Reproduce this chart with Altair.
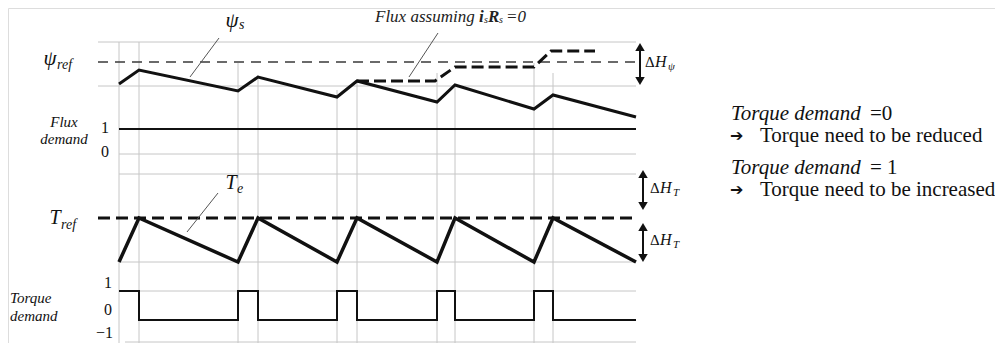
import altair as alt
import pandas as pd

# ---------------- data (diagram units) ----------------
# switching instants (time axis)
switch_t = [119, 139, 238, 258, 337, 357, 437, 455, 534, 553, 636]
# stator flux magnitude psi_s at those instants
psi_s = [84, 70, 91, 77, 97, 81, 102, 85, 109, 95, 117]
# electromagnetic torque T_e at those instants
t_e = [262, 218, 262, 218, 262, 218, 262, 218, 262, 218, 262]
# torque demand (1 = increase, 0 = reduce) on each interval [switch_t[i], switch_t[i+1]]
torque_demand = [1, 0, 1, 0, 1, 0, 1, 0, 1, 0]
# "flux assuming i_s R_s = 0" curve
flux_ideal_t = [357, 435, 455, 534, 551, 595]
flux_ideal_v = [81, 81, 67, 67, 51, 51]
# reference levels
psi_ref_level = 62
psi_band = [42, 86]
flux_demand_level = 129
flux_demand_grid = [154, 174]
t_ref_level = 218
t_band = [174, 262]
td_levels = {1: 291, 0: 320}
td_grid = [291, 342]
t_start, t_end, label_start = 119, 636, 98
# vertical guide tops at each switching instant
vguide_top = [42, 42, 63, 75, 90, 82, 73, 85, 63, 73]

# ---------------- scales ----------------
XS = alt.Scale(domain=[8, 995], nice=False, zero=False)
YS = alt.Scale(domain=[8, 343], nice=False, zero=False, reverse=True)
GRID = "#c6c6c6"
SERIF = "Times New Roman, Liberation Serif, DejaVu Serif, serif"


def X(f="x"):
    return alt.X(f"{f}:Q", scale=XS, axis=None)


def Y(f="y"):
    return alt.Y(f"{f}:Q", scale=YS, axis=None)


def hrules(rows, **mk):
    df = pd.DataFrame(rows, columns=["x", "x2", "y"])
    return alt.Chart(df).mark_rule(**mk).encode(x=X(), x2="x2:Q", y=Y())


def vrules(rows, **mk):
    df = pd.DataFrame(rows, columns=["x", "y", "y2"])
    return alt.Chart(df).mark_rule(**mk).encode(x=X(), y=Y(), y2="y2:Q")


def line(xs, ys, **mk):
    df = pd.DataFrame({"x": xs, "y": ys, "i": range(len(xs))})
    return alt.Chart(df).mark_line(**mk).encode(x=X(), y=Y(), order="i:Q")


def texts(rows, **mk):
    df = pd.DataFrame(rows, columns=["x", "y", "t"])
    mk.setdefault("font", SERIF)
    mk.setdefault("color", "#111")
    mk.setdefault("baseline", "middle")
    return alt.Chart(df).mark_text(**mk).encode(x=X(), y=Y(), text="t:N")


layers = []

# grid
grid_h = [
    (label_start, t_end, psi_band[0]),
    (label_start, t_end, psi_band[1]),
    (t_start, t_end, flux_demand_grid[0]),
    (t_start, t_end, flux_demand_grid[1]),
    (t_start, t_end, t_band[1]),
    (t_start, t_end, td_grid[0]),
    (125, t_end, td_grid[1]),
]
layers.append(hrules(grid_h, color=GRID, strokeWidth=1))
grid_v = [(t, top, 343) for t, top in zip(switch_t[:-1], vguide_top)]
layers.append(vrules(grid_v, color=GRID, strokeWidth=1))

# reference lines
layers.append(hrules([(label_start, t_end, psi_ref_level)], color="#3a3a3a",
                     strokeWidth=1.5, strokeDash=[10, 7]))
layers.append(hrules([(label_start, t_end, t_ref_level)], color="#111111",
                     strokeWidth=3, strokeDash=[12, 6]))
layers.append(hrules([(t_start, t_end, flux_demand_level)], color="#111111",
                     strokeWidth=2))

# curves
layers.append(line(switch_t, psi_s, color="#111111", strokeWidth=3, strokeJoin="miter"))
layers.append(line(flux_ideal_t, flux_ideal_v, color="#111111", strokeWidth=3,
                   strokeDash=[12, 5]))
layers.append(line(switch_t, t_e, color="#111111", strokeWidth=3.5, strokeJoin="miter"))

# torque demand step signal
td_x, td_y = [], []
for i, lvl in enumerate(torque_demand):
    td_x += [switch_t[i], switch_t[i + 1]]
    td_y += [td_levels[lvl], td_levels[lvl]]
layers.append(line(td_x, td_y, color="#111111", strokeWidth=2, strokeJoin="miter"))

# leader lines
leaders = pd.DataFrame({
    "x": [219, 438, 218], "y": [38, 33, 193],
    "x2": [190, 409, 187], "y2": [77, 77, 232],
})
layers.append(alt.Chart(leaders).mark_rule(color="#555555", strokeWidth=1).encode(
    x=X(), y=Y(), x2="x2:Q", y2="y2:Q"))

# double arrows (delta H bands)
arrows = [(640, 43, 85), (643, 170, 210), (643, 223, 262)]
layers.append(vrules([(a, t + 5, b - 5) for a, t, b in arrows], color="#111111", strokeWidth=2))
tops = pd.DataFrame({"x": [a[0] for a in arrows], "y": [a[1] + 4 for a in arrows]})
bots = pd.DataFrame({"x": [a[0] for a in arrows], "y": [a[2] - 4 for a in arrows]})
layers.append(alt.Chart(tops).mark_point(shape="triangle-up", filled=True, size=90,
                                         color="#111111", opacity=1).encode(x=X(), y=Y()))
layers.append(alt.Chart(bots).mark_point(shape="triangle-down", filled=True, size=90,
                                         color="#111111", opacity=1).encode(x=X(), y=Y()))

# big italic symbols
layers.append(texts([(50, 59, "ψ"), (232, 21, "ψ")], fontSize=21,
                    fontStyle="italic", align="center"))
layers.append(texts([(55, 218, "T"), (231, 183, "T")], fontSize=20,
                    fontStyle="italic", align="center"))
layers.append(texts([(57, 65, "ref"), (239, 25, "s"), (61, 225, "ref"), (237, 189, "e")],
                    fontSize=14, fontStyle="italic", align="left"))
# panel labels
layers.append(texts([(64, 122, "Flux"), (64, 139, "demand")], fontSize=15,
                    fontStyle="italic", align="center"))
layers.append(texts([(10, 298, "Torque"), (10, 316, "demand")], fontSize=15,
                    fontStyle="italic", align="left"))
layers.append(texts([(105, 128, "1"), (105, 152, "0"), (108, 283, "1"), (108, 310, "0")],
                    fontSize=16, align="center"))
layers.append(texts([(113, 333, "−1")], fontSize=16, align="right"))
# delta H labels
layers.append(texts([(645, 62, "Δ"), (650, 188, "Δ"), (650, 240, "Δ")],
                    fontSize=15, align="left"))
layers.append(texts([(655, 62, "H"), (660, 188, "H"), (660, 240, "H")],
                    fontSize=16, fontStyle="italic", align="left"))
layers.append(texts([(668, 67, "ψ"), (673, 193, "T"), (673, 245, "T")],
                    fontSize=11, fontStyle="italic", align="left"))
# flux assuming label
layers.append(texts([(375, 17, "Flux assuming")], fontSize=17,
                    fontStyle="italic", color="#222", align="left"))
layers.append(texts([(479, 17, "i"), (488, 17, "R")], fontSize=17,
                    fontStyle="italic", fontWeight="bold", color="#222", align="left"))
layers.append(texts([(484, 20, "s"), (499, 20, "s")], fontSize=10,
                    fontStyle="italic", color="#222", align="left"))
layers.append(texts([(506, 17, "=0")], fontSize=17, fontStyle="italic",
                    color="#222", align="left"))
# right-hand notes
layers.append(texts([(731, 114, "Torque demand"), (731, 168, "Torque demand")],
                    fontSize=21, fontStyle="italic", align="left"))
layers.append(texts([(870, 114, "=0"), (870, 168, "= 1")], fontSize=21, align="left"))
layers.append(texts([(730, 136, "➔"), (730, 190, "➔")], font="DejaVu Sans", fontSize=16,
                    fontWeight="bold", align="left"))
layers.append(texts([(760, 136, "Torque need to be reduced"),
                     (760, 190, "Torque need to be increased")], fontSize=21,
                    align="left"))

chart = alt.layer(*layers).properties(
    width=987, height=335, padding=0,
    autosize=alt.AutoSizeParams(type="none"),
).configure_view(stroke=None).configure(background="white")

chart.save("out.html", embed_options={"renderer": "svg", "actions": False})
